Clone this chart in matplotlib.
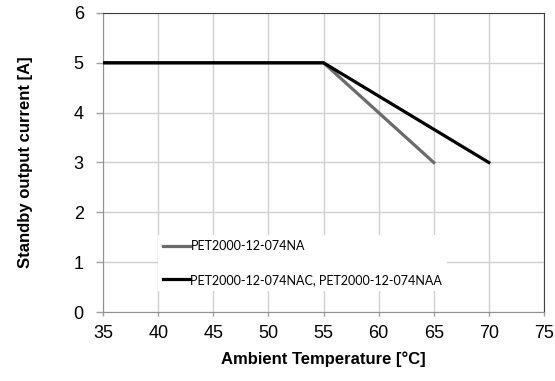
import matplotlib
matplotlib.use('Agg')
import matplotlib.pyplot as plt

# derating curves
temp_na = [35, 55, 65]
curr_na = [5, 5, 3]
temp_nac = [35, 55, 70]
curr_nac = [5, 5, 3]
label_na = 'PET2000-12-074NA'
label_nac = 'PET2000-12-074NAC, PET2000-12-074NAA'

plt.rcParams['font.family'] = ['Liberation Sans', 'DejaVu Sans']

fig = plt.figure(figsize=(5.55, 3.81), dpi=100)
ax = fig.add_axes([0.186, 0.181, 0.794, 0.785])

ax.plot(temp_na, curr_na, color='#6b6b6b', linewidth=2.3, label=label_na, zorder=3)
ax.plot(temp_nac, curr_nac, color='black', linewidth=2.3, label=label_nac, zorder=3)

ax.set_xlim(35, 75)
ax.set_ylim(0, 6)
ax.set_xticks(range(35, 76, 5))
ax.set_yticks(range(0, 7, 1))
ax.grid(True, color='#d0d0d0', linewidth=1.0)
ax.set_axisbelow(True)
ax.tick_params(axis='both', labelsize=13, color='#a0a0a0', width=1.0)
ax.tick_params(axis='x', length=3, pad=6)
ax.tick_params(axis='y', length=5, pad=9)
for side in ['left', 'bottom']:
    ax.spines[side].set_color('#909090')
for side in ['top', 'right']:
    ax.spines[side].set_color('#404040')

ax.set_xlabel('Ambient Temperature [°C]', fontsize=12, fontweight='bold', labelpad=7)
ax.set_ylabel('Standby output current [A]', fontsize=12, fontweight='bold', labelpad=29)

leg = ax.legend(loc='lower left', bbox_to_anchor=(0.11, 0.05), frameon=True,
                handlelength=2.2, handletextpad=0.0, labelspacing=1.75,
                prop={'family': 'Lato', 'size': 9}, borderpad=0.4)
leg.get_frame().set_facecolor('white')
leg.get_frame().set_edgecolor('none')
leg.get_frame().set_alpha(1.0)
leg.get_frame().set_boxstyle('square', pad=0)

fig.savefig('out.png', dpi=100)
